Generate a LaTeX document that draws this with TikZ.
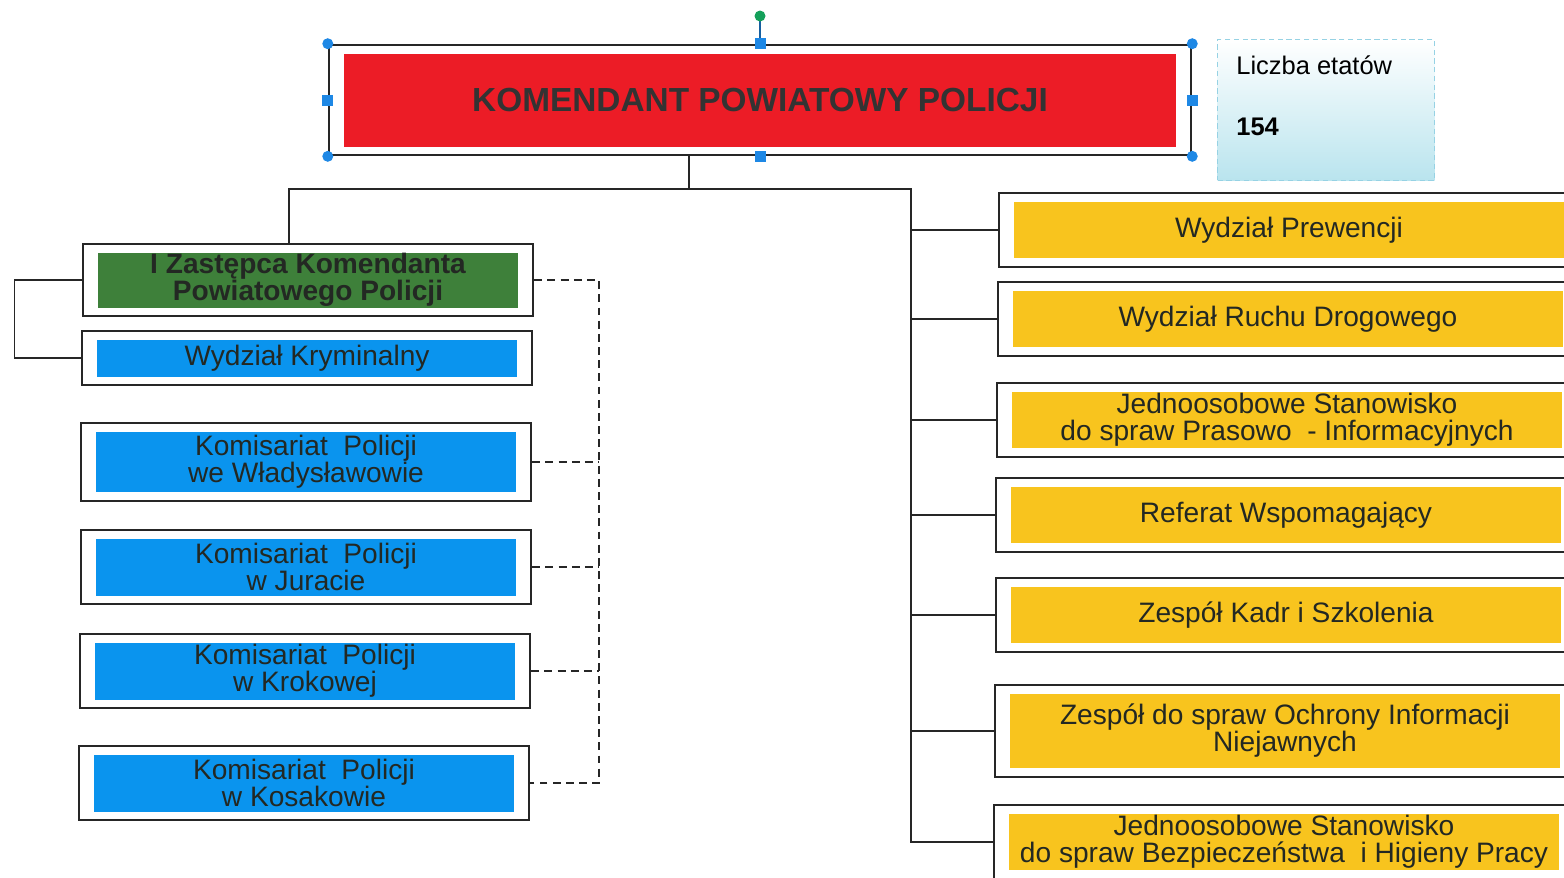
\documentclass[tikz,border=0pt]{standalone}
\usepackage{fontspec}
\setmainfont{Liberation Sans}
\usetikzlibrary{fit}
\definecolor{kppred}{RGB}{236,28,38}
\definecolor{zgreen}{RGB}{62,128,58}
\definecolor{unitblue}{RGB}{10,148,238}
\definecolor{unitgold}{RGB}{248,196,30}
\definecolor{unittext}{RGB}{35,40,35}
\definecolor{etatycyan}{RGB}{185,228,238}
\definecolor{etatyline}{RGB}{150,210,228}
\definecolor{handleblue}{RGB}{30,136,229}
\definecolor{handlegreen}{RGB}{20,160,90}
\newcommand*{\unitfont}{\fontsize{16}{15.4}\selectfont}

\begin{document}
\begin{tikzpicture}[x=0.02cm, y=-0.02cm,
  unitframe/.style={draw=black!85, line width=1.1pt, inner xsep=0.3cm, inner ysep=0.17cm},
  leftunit/.style={fill=unitblue, minimum width=8.4cm, minimum height=1.14cm, inner sep=0pt, align=center, font=\unitfont, text=unittext},
  rightunit/.style={fill=unitgold, minimum width=11cm, minimum height=1.12cm, inner sep=0pt, align=center, font=\unitfont, text=unittext},
  link/.style={draw=black!85, line width=0.8pt},
  sublink/.style={link, dash pattern=on 4.5pt off 3pt}]
\useasboundingbox (0,0) rectangle (1564,877);
\clip (0,0) rectangle (1564,877);

\node (KPPin) [fill=kppred, minimum width=16.64cm, minimum height=1.86cm, inner sep=0pt, font=\fontsize{19}{22}\selectfont\bfseries, text=black!80] at (760,100) {KOMENDANT POWIATOWY POLICJI};
\node (KPP) [unitframe, fit=(KPPin)] {};

\node (etaty) [top color=white, bottom color=etatycyan, draw=etatyline, densely dashed, line width=0.5pt, minimum width=4.34cm, minimum height=2.82cm] at (1326,110) {};
\node (etatyT) [anchor=base west, inner sep=0pt, font=\fontsize{14.5}{17}\selectfont] at (1236,74) {Liczba etatów};
\node (etatyN) [anchor=base west, inner sep=0pt, font=\fontsize{14.5}{17}\selectfont\bfseries] at (1236,135) {154};

\node (ZKPPin) [leftunit, fill=zgreen, minimum height=1.1cm, font=\unitfont\bfseries] at (308,280) {I Zastępca Komendanta\\Powiatowego Policji};
\node (ZKPP) [unitframe, fit=(ZKPPin)] {};
\node (WKin) [leftunit, minimum height=0.74cm] at (307,358) {Wydział Kryminalny};
\node (WK) [unitframe, fit=(WKin)] {};
\node (KPWin) [leftunit, minimum height=1.2cm] at (306,462) {Komisariat~ Policji\\we Władysławowie};
\node (KPW) [unitframe, fit=(KPWin)] {};
\node (KPJin) [leftunit] at (306,567) {Komisariat~ Policji\\w Juracie};
\node (KPJ) [unitframe, fit=(KPJin)] {};
\node (KPKin) [leftunit] at (305,671) {Komisariat~ Policji\\w Krokowej};
\node (KPK) [unitframe, fit=(KPKin)] {};
\node (KPKosin) [leftunit] at (304,783) {Komisariat~ Policji\\w Kosakowie};
\node (KPKos) [unitframe, fit=(KPKosin)] {};

\node (WPin) [rightunit] at (1289,230) {Wydział Prewencji};
\node (WP) [unitframe, fit=(WPin)] {};
\node (WRDin) [rightunit] at (1288,319) {Wydział Ruchu Drogowego};
\node (WRD) [unitframe, fit=(WRDin)] {};
\node (JSPin) [rightunit] at (1287,420) {Jednoosobowe Stanowisko\\do spraw Prasowo~ - Informacyjnych};
\node (JSP) [unitframe, fit=(JSPin)] {};
\node (RWin) [rightunit] at (1286,515) {Referat Wspomagający};
\node (RW) [unitframe, fit=(RWin)] {};
\node (ZKSin) [rightunit] at (1286,615) {Zespół Kadr i Szkolenia};
\node (ZKS) [unitframe, fit=(ZKSin)] {};
\node (ZOINin) [rightunit, minimum height=1.48cm] at (1285,731) {Zespół do spraw Ochrony Informacji\\Niejawnych};
\node (ZOIN) [unitframe, fit=(ZOINin)] {};
\node (JBHPin) [rightunit] at (1284,842) {Jednoosobowe Stanowisko\\do spraw Bezpieczeństwa~ i Higieny Pracy};
\node (JBHP) [unitframe, fit=(JBHPin)] {};

\coordinate (top) at (689,189);
\coordinate (busL) at (289,189);
\coordinate (busR) at (911,189);
\draw[link] (KPP.south -| top) -- (top);
\draw[link] (ZKPP.north -| busL) -- (busL) -- (busR) |- (JBHP.west);
\draw[link] (busR |- WP.west) -- (WP.west);
\draw[link] (busR |- WRD.west) -- (WRD.west);
\draw[link] (busR |- JSP.west) -- (JSP.west);
\draw[link] (busR |- RW.west) -- (RW.west);
\draw[link] (busR |- ZKS.west) -- (ZKS.west);
\draw[link] (busR |- ZOIN.west) -- (ZOIN.west);
\draw[link] (ZKPP.west) -- ++(-67,0) |- (WK.west);

\coordinate (sub) at (599,280);
\draw[sublink] (ZKPP.east) -- (sub) |- (KPKos.east);
\draw[sublink] (KPW.east) -- (sub |- KPW.east);
\draw[sublink] (KPJ.east) -- (sub |- KPJ.east);
\draw[sublink] (KPK.east) -- (sub |- KPK.east);

\coordinate (rot) at (760,16);
\draw[handleblue!70!black, line width=0.9pt] (KPP.north) -- (rot);
\fill[handlegreen] (rot) circle (0.11cm);
\foreach \a in {north west,north east,south west,south east}
  \fill[handleblue] (KPP.\a) circle (0.11cm);
\foreach \a in {north,south,west,east}
  \node[fill=handleblue, minimum size=0.22cm, inner sep=0pt] at (KPP.\a) {};
\end{tikzpicture}
\end{document}
